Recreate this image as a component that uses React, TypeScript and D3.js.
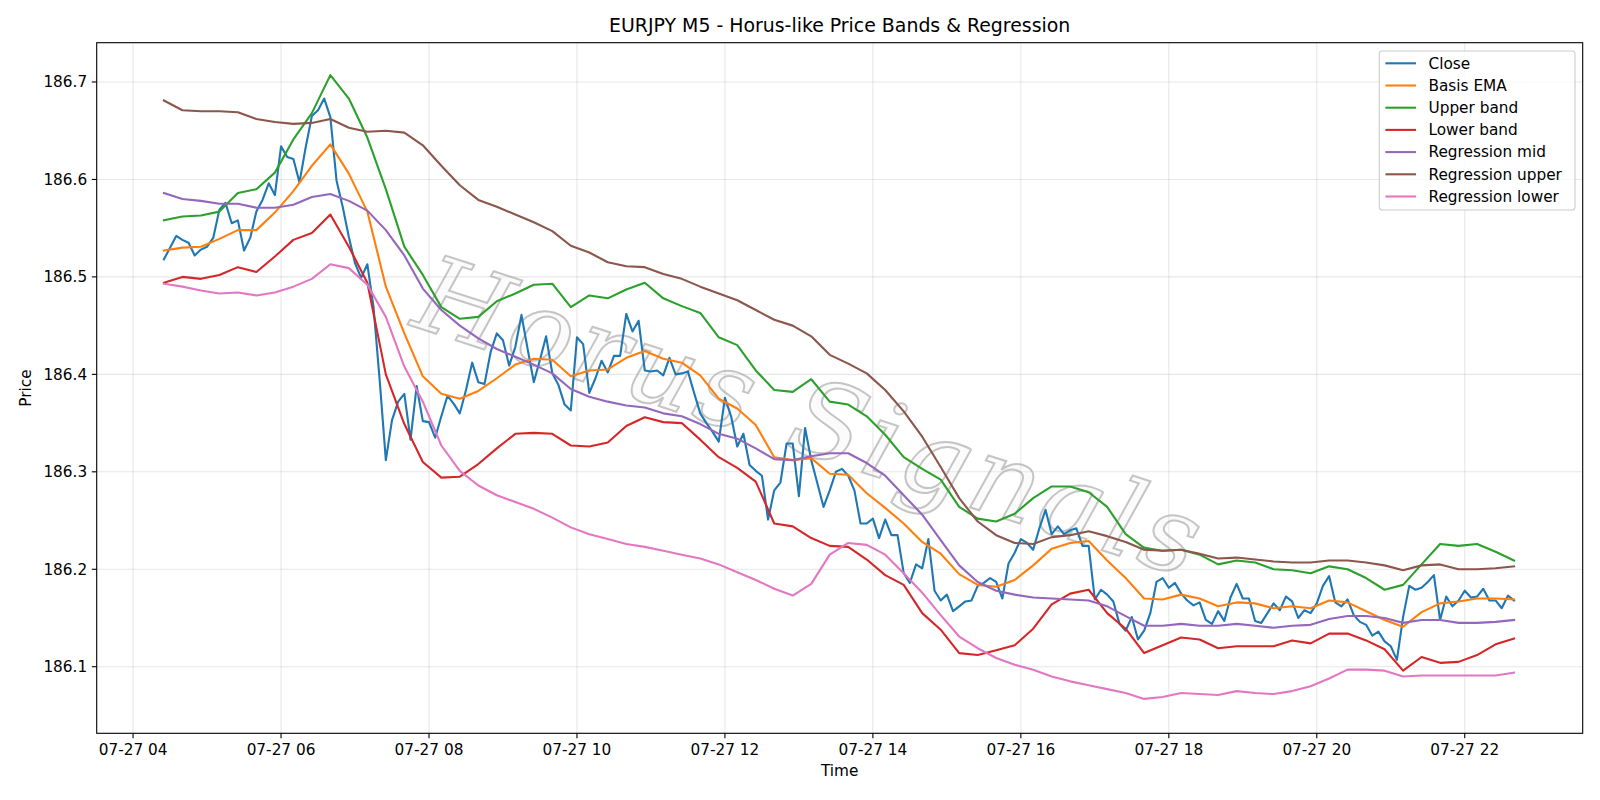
import React from 'react';
import * as d3 from 'd3';

// EURJPY M5 close, one value every 5 minutes from 04:25 to 22:40
const closeValues = [
  186.518, 186.530, 186.542, 186.538, 186.535, 186.522, 186.528, 186.531, 186.540, 186.569,
  186.576, 186.555, 186.558, 186.527, 186.540, 186.567, 186.579, 186.596, 186.584, 186.634,
  186.623, 186.621, 186.597, 186.633, 186.665, 186.671, 186.683, 186.664, 186.599, 186.572,
  186.541, 186.514, 186.499, 186.513, 186.469, 186.394, 186.312, 186.353, 186.372, 186.380,
  186.333, 186.388, 186.352, 186.351, 186.335, 186.357, 186.378, 186.370, 186.360, 186.384,
  186.412, 186.392, 186.390, 186.423, 186.442, 186.435, 186.409, 186.428, 186.461, 186.426,
  186.392, 186.415, 186.439, 186.401, 186.389, 186.369, 186.363, 186.438, 186.431, 186.381,
  186.396, 186.414, 186.402, 186.419, 186.419, 186.462, 186.444, 186.455, 186.404, 186.403,
  186.404, 186.399, 186.417, 186.400, 186.401, 186.403, 186.381, 186.360, 186.350, 186.341,
  186.331, 186.376, 186.357, 186.326, 186.339, 186.307, 186.301, 186.296, 186.251, 186.281,
  186.289, 186.329, 186.329, 186.275, 186.345, 186.312, 186.288, 186.264, 186.281, 186.300,
  186.303, 186.296, 186.281, 186.247, 186.247, 186.252, 186.232, 186.251, 186.235, 186.235,
  186.196, 186.186, 186.205, 186.201, 186.231, 186.178, 186.168, 186.174, 186.157, 186.162,
  186.167, 186.168, 186.183, 186.186, 186.191, 186.187, 186.170, 186.206, 186.217, 186.231,
  186.227, 186.220, 186.242, 186.261, 186.236, 186.244, 186.236, 186.240, 186.242, 186.224,
  186.224, 186.169, 186.179, 186.174, 186.167, 186.144, 186.137, 186.151, 186.128, 186.137,
  186.155, 186.187, 186.191, 186.181, 186.186, 186.175, 186.168, 186.163, 186.166, 186.148,
  186.144, 186.157, 186.147, 186.171, 186.185, 186.170, 186.170, 186.147, 186.145, 186.155,
  186.165, 186.158, 186.172, 186.167, 186.150, 186.158, 186.155, 186.165, 186.183, 186.193,
  186.166, 186.162, 186.169, 186.153, 186.146, 186.143, 186.132, 186.136, 186.126, 186.121,
  186.107, 186.151, 186.183, 186.179, 186.181, 186.187, 186.194, 186.148, 186.172, 186.162,
  186.168, 186.178, 186.171, 186.172, 186.180, 186.168, 186.168, 186.160, 186.173, 186.168,
];

// bands and regression channel, one value every 15 minutes from 04:25 to 22:40
const basisEma = [
  186.527, 186.530, 186.531, 186.539, 186.548, 186.548, 186.566, 186.588, 186.614, 186.636,
  186.606, 186.567, 186.490, 186.442, 186.398, 186.380, 186.375, 186.383, 186.396, 186.410,
  186.416, 186.415, 186.398, 186.404, 186.405, 186.417, 186.424, 186.416, 186.412, 186.399,
  186.375, 186.365, 186.348, 186.315, 186.312, 186.314, 186.298, 186.297, 186.278, 186.263,
  186.247, 186.228, 186.216, 186.195, 186.184, 186.182, 186.189, 186.204, 186.221, 186.227,
  186.229, 186.209, 186.191, 186.170, 186.169, 186.174, 186.170, 186.162, 186.166, 186.165,
  186.160, 186.162, 186.160, 186.168, 186.166, 186.157, 186.148, 186.141, 186.156, 186.165,
  186.167, 186.170, 186.170, 186.169,
];

const upperBand = [
  186.558, 186.562, 186.563, 186.567, 186.586, 186.590, 186.607, 186.641, 186.668, 186.707,
  186.683, 186.643, 186.590, 186.531, 186.502, 186.469, 186.457, 186.459, 186.475, 186.483,
  186.492, 186.493, 186.469, 186.481, 186.478, 186.487, 186.494, 186.478, 186.470, 186.463,
  186.438, 186.430, 186.404, 186.384, 186.382, 186.395, 186.372, 186.369, 186.357, 186.338,
  186.315, 186.303, 186.292, 186.264, 186.252, 186.249, 186.257, 186.273, 186.285, 186.285,
  186.279, 186.264, 186.236, 186.222, 186.219, 186.220, 186.215, 186.205, 186.209, 186.207,
  186.200, 186.199, 186.196, 186.203, 186.200, 186.191, 186.179, 186.184, 186.205, 186.226,
  186.224, 186.226, 186.218, 186.209,
];

const lowerBand = [
  186.494, 186.500, 186.498, 186.502, 186.510, 186.505, 186.521, 186.538, 186.545, 186.564,
  186.531, 186.494, 186.400, 186.349, 186.310, 186.294, 186.295, 186.308, 186.324, 186.339,
  186.340, 186.339, 186.327, 186.326, 186.330, 186.347, 186.356, 186.351, 186.350, 186.333,
  186.315, 186.304, 186.290, 186.247, 186.244, 186.232, 186.224, 186.223, 186.210, 186.194,
  186.184, 186.155, 186.138, 186.114, 186.112, 186.117, 186.122, 186.139, 186.164, 186.175,
  186.179, 186.155, 186.139, 186.114, 186.122, 186.130, 186.128, 186.119, 186.121, 186.121,
  186.121, 186.127, 186.124, 186.134, 186.134, 186.127, 186.118, 186.096, 186.110, 186.104,
  186.105, 186.112, 186.123, 186.129,
];

const regMid = [
  186.586, 186.580, 186.578, 186.575, 186.575, 186.571, 186.571, 186.574, 186.582, 186.585,
  186.578, 186.568, 186.548, 186.522, 186.488, 186.466, 186.450, 186.437, 186.426, 186.418,
  186.410, 186.401, 186.385, 186.377, 186.372, 186.368, 186.366, 186.360, 186.357, 186.349,
  186.339, 186.334, 186.324, 186.313, 186.312, 186.316, 186.319, 186.319, 186.309, 186.296,
  186.276, 186.256, 186.230, 186.204, 186.187, 186.178, 186.174, 186.171, 186.170, 186.169,
  186.168, 186.162, 186.152, 186.142, 186.142, 186.144, 186.142, 186.142, 186.144, 186.142,
  186.140, 186.142, 186.143, 186.149, 186.152, 186.152, 186.150, 186.145, 186.148, 186.148,
  186.145, 186.145, 186.146, 186.148,
];

const regUpper = [
  186.681, 186.671, 186.670, 186.670, 186.669, 186.662, 186.659, 186.657, 186.658, 186.662,
  186.653, 186.649, 186.650, 186.648, 186.635, 186.614, 186.594, 186.579, 186.572, 186.564,
  186.556, 186.547, 186.532, 186.525, 186.515, 186.511, 186.510, 186.503, 186.498, 186.490,
  186.483, 186.476, 186.466, 186.456, 186.450, 186.439, 186.420, 186.411, 186.401, 186.384,
  186.362, 186.336, 186.305, 186.273, 186.249, 186.235, 186.227, 186.226, 186.233, 186.235,
  186.239, 186.234, 186.228, 186.220, 186.219, 186.220, 186.216, 186.211, 186.212, 186.210,
  186.208, 186.207, 186.207, 186.209, 186.209, 186.207, 186.204, 186.199, 186.204, 186.205,
  186.200, 186.200, 186.201, 186.203,
];

const regLower = [
  186.493, 186.490, 186.486, 186.483, 186.484, 186.481, 186.484, 186.490, 186.498, 186.513,
  186.509, 186.492, 186.459, 186.408, 186.372, 186.327, 186.301, 186.286, 186.276, 186.269,
  186.262, 186.253, 186.243, 186.236, 186.231, 186.226, 186.223, 186.219, 186.215, 186.211,
  186.205, 186.197, 186.189, 186.180, 186.173, 186.185, 186.215, 186.227, 186.225, 186.215,
  186.196, 186.176, 186.153, 186.131, 186.119, 186.109, 186.102, 186.097, 186.090, 186.085,
  186.081, 186.077, 186.073, 186.067, 186.069, 186.073, 186.072, 186.071, 186.075, 186.073,
  186.072, 186.075, 186.080, 186.088, 186.097, 186.097, 186.096, 186.090, 186.091, 186.091,
  186.091, 186.091, 186.091, 186.094,
];

const yTicks = [186.1, 186.2, 186.3, 186.4, 186.5, 186.6, 186.7];
const xTickHours = [4, 6, 8, 10, 12, 14, 16, 18, 20, 22];

const W = 1600;
const H = 800;
const plot = { left: 96.7, right: 1582.7, top: 42.7, bottom: 733.3 };

const at = (h: number, m: number) => new Date(2025, 6, 27, h, m);
const start = at(4, 25);
const closeTimes = closeValues.map((_, i) => d3.timeMinute.offset(start, i * 5));
const bandTimes = basisEma.map((_, i) => d3.timeMinute.offset(start, i * 15));

const series = [
  { label: 'Close', color: '#1f77b4', values: closeValues, times: closeTimes },
  { label: 'Basis EMA', color: '#ff7f0e', values: basisEma, times: bandTimes },
  { label: 'Upper band', color: '#2ca02c', values: upperBand, times: bandTimes },
  { label: 'Lower band', color: '#d62728', values: lowerBand, times: bandTimes },
  { label: 'Regression mid', color: '#9467bd', values: regMid, times: bandTimes },
  { label: 'Regression upper', color: '#8c564b', values: regUpper, times: bandTimes },
  { label: 'Regression lower', color: '#e377c2', values: regLower, times: bandTimes },
];

const x = d3.scaleTime()
  .domain([d3.timeSecond.offset(at(3, 30), 30), d3.timeSecond.offset(at(23, 35), 40)])
  .range([plot.left, plot.right]);
const y = d3.scaleLinear().domain([186.0317, 186.7403]).range([plot.bottom, plot.top]);

const fmt = d3.timeFormat('%m-%d %H');
const font = 'DejaVu Sans, sans-serif';
const fs = 15.3;

export default function App() {
  const lineFor = (s: typeof series[number]) =>
    d3.line<number>()
      .x((_, i) => x(s.times[i]))
      .y(d => y(d))(s.values) || '';

  const legend = { x: 1379.3, y: 51, w: 195.7, h: 159, row: 22.2 };

  return (
    <svg width={W} height={H} style={{ display: 'block', marginTop: -8, marginLeft: -8 }} fontFamily={font}>
      <rect width={W} height={H} fill="#fff" />
      <text x={(plot.left + plot.right) / 2} y={32} textAnchor="middle" fontSize={18.9}>
        EURJPY M5 - Horus-like Price Bands &amp; Regression
      </text>

      {/* grid */}
      <g stroke="#b0b0b0" strokeOpacity={0.3} strokeWidth={1.1}>
        {xTickHours.map(h => (
          <line key={h} x1={x(at(h, 0))} x2={x(at(h, 0))} y1={plot.top} y2={plot.bottom} />
        ))}
        {yTicks.map(v => (
          <line key={v} x1={plot.left} x2={plot.right} y1={y(v)} y2={y(v)} />
        ))}
      </g>

      {/* watermark */}
      <g transform="translate(800,452) rotate(18)" opacity={0.6}>
        <text textAnchor="middle" fontFamily="DejaVu Serif, serif" fontStyle="italic" fontSize={106}
          letterSpacing={5} fill="#f0f0f0" fillOpacity={0.4} stroke="#a0a0a0" strokeWidth={2}>
          Horus Signals
        </text>
      </g>

      <g fill="none" strokeWidth={2.1} strokeLinejoin="round" strokeLinecap="square">
        {series.map(s => (
          <path key={s.label} d={lineFor(s)} stroke={s.color} />
        ))}
      </g>

      {/* axes frame */}
      <rect x={plot.left} y={plot.top} width={plot.right - plot.left} height={plot.bottom - plot.top}
        fill="none" stroke="#000" strokeWidth={1.1} />

      <g fontSize={fs}>
        {xTickHours.map(h => {
          const px = x(at(h, 0));
          return (
            <g key={h}>
              <line x1={px} x2={px} y1={plot.bottom} y2={plot.bottom + 4.9} stroke="#000" strokeWidth={1.1} />
              <text x={px} y={plot.bottom + 22} textAnchor="middle">{fmt(at(h, 0))}</text>
            </g>
          );
        })}
        {yTicks.map(v => (
          <g key={v}>
            <line x1={plot.left - 4.9} x2={plot.left} y1={y(v)} y2={y(v)} stroke="#000" strokeWidth={1.1} />
            <text x={plot.left - 9.5} y={y(v)} dy="0.35em" textAnchor="end">{v.toFixed(1)}</text>
          </g>
        ))}
        <text x={(plot.left + plot.right) / 2} y={776} textAnchor="middle">Time</text>
        <text transform={`translate(31,${(plot.top + plot.bottom) / 2}) rotate(-90)`} textAnchor="middle">Price</text>
      </g>

      {/* legend */}
      <g fontSize={fs}>
        <rect x={legend.x} y={legend.y} width={legend.w} height={legend.h} rx={3}
          fill="#fff" fillOpacity={0.8} stroke="#cccccc" strokeWidth={1.1} />
        {series.map((s, i) => {
          const cy = legend.y + 12.3 + i * legend.row;
          return (
            <g key={s.label}>
              <line x1={legend.x + 6.1} x2={legend.x + 36.7} y1={cy} y2={cy} stroke={s.color} strokeWidth={2.1} />
              <text x={legend.x + 49.2} y={cy} dy="0.35em">{s.label}</text>
            </g>
          );
        })}
      </g>
    </svg>
  );
}
